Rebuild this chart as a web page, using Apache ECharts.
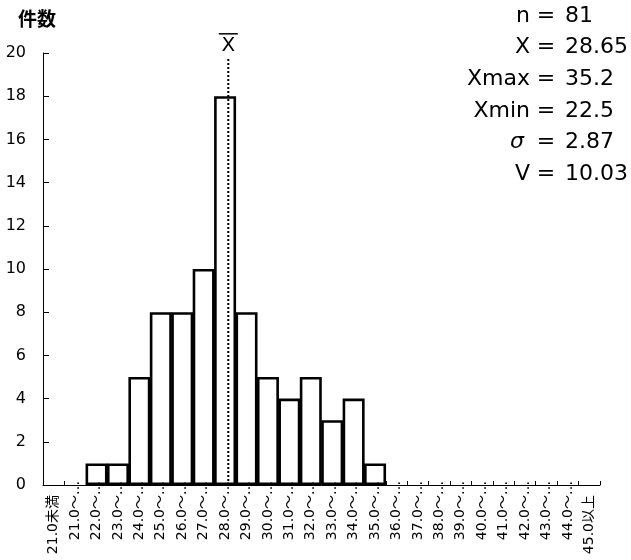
<!DOCTYPE html>
<html>
<head>
<meta charset="utf-8">
<title>histogram</title>
<script src="https://cdn.jsdelivr.net/npm/echarts@6/dist/echarts.min.js"></script>
<style>
  html, body { margin: 0; padding: 0; background: #fff; }
  #main { width: 631px; height: 560px; }
</style>
</head>
<body>
<div id="main"></div>
<script>
// 階級ラベル
var classLabels = ['21.0未満', '21.0～', '22.0～', '23.0～', '24.0～', '25.0～', '26.0～',
  '27.0～', '28.0～', '29.0～', '30.0～', '31.0～', '32.0～', '33.0～', '34.0～', '35.0～',
  '36.0～', '37.0～', '38.0～', '39.0～', '40.0～', '41.0～', '42.0～', '43.0～', '44.0～', '45.0以上'];
// 件数
var counts = [0, 0, 1, 1, 5, 8, 8, 10, 18, 8, 5, 4, 5, 3, 4, 1, 0, 0, 0, 0, 0, 0, 0, 0, 0, 0];
// 平均 (X bar)
var meanValue = 28.65;
var meanLineTop = 19.8;
// 統計量
var statNames = ['n', 'X', 'Xmax', 'Xmin', 'σ', 'V'];
var statValues = ['81', '28.65', '35.2', '22.5', '2.87', '10.03'];

var FONT = '"DejaVu Sans", "Noto Sans CJK JP", sans-serif';

var chart = echarts.init(document.getElementById('main'));

var statGraphics = [];
statNames.forEach(function (name, i) {
  var y = 16 + i * 31.6;
  statGraphics.push({
    type: 'text', x: name === 'σ' ? 524 : 530, y: y,
    style: { text: name, textAlign: 'right', textVerticalAlign: 'middle', fontSize: 22,
      fontFamily: FONT, fontStyle: name === 'σ' ? 'italic' : 'normal', fill: '#000' }
  });
  statGraphics.push({
    type: 'text', x: 546, y: y,
    style: { text: '=', textAlign: 'center', textVerticalAlign: 'middle', fontSize: 22,
      fontFamily: FONT, fill: '#000' }
  });
  statGraphics.push({
    type: 'text', x: 565, y: y,
    style: { text: statValues[i], textAlign: 'left', textVerticalAlign: 'middle', fontSize: 22,
      fontFamily: FONT, fill: '#000' }
  });
});

var option = {
  animation: false,
  backgroundColor: '#fff',
  textStyle: { fontFamily: FONT, color: '#000' },
  grid: { left: 43, right: 31, top: 53, bottom: 75 },
  graphic: [{
    type: 'text', x: 37, y: 21,
    style: { text: '件数', textAlign: 'center', textVerticalAlign: 'middle', fontSize: 19,
      fontWeight: 'bold', fontFamily: FONT, fill: '#000' }
  }].concat(statGraphics),
  xAxis: [{
    type: 'category',
    data: classLabels.map(function (s) {
      return s.indexOf('～') >= 0 ? s + '…' : s + '　';
    }),
    boundaryGap: true,
    z: 10,
    axisLine: { lineStyle: { color: '#000', width: 1 } },
    axisTick: { show: true, inside: true, length: 4, alignWithLabel: false, lineStyle: { color: '#000' } },
    axisLabel: { rotate: 90, interval: 0, margin: -4, fontSize: 14, color: '#000', fontFamily: FONT },
    splitLine: { show: false }
  }, {
    type: 'value', min: 20, max: 46, show: false
  }],
  yAxis: {
    type: 'value', min: 0, max: 20, interval: 2,
    axisLine: { show: true, lineStyle: { color: '#000', width: 1 } },
    axisTick: { show: true, inside: true, length: 6, lineStyle: { color: '#000' } },
    axisLabel: { margin: 17, fontSize: 16, color: '#000', fontFamily: FONT },
    splitLine: { show: false }
  },
  series: [{
    type: 'bar',
    data: counts.map(function (v) { return v === 0 ? '-' : v; }),
    barWidth: 22,
    itemStyle: { color: '#fff', borderColor: '#000', borderWidth: 2.6 },
    z: 2
  }, {
    type: 'line',
    xAxisIndex: 1,
    data: [[meanValue, 0], [meanValue, meanLineTop]],
    symbol: 'none',
    lineStyle: { color: '#000', width: 2, type: [2, 2] },
    z: 3,
    markPoint: {
      symbol: 'rect', symbolSize: 0,
      data: [{ coord: [meanValue, meanLineTop] }],
      label: {
        show: true, position: 'top', distance: 3,
        formatter: '{o| }\n{x|X}',
        rich: {
          o: { width: 19, height: 1.5, lineHeight: 5, backgroundColor: '#000', fontSize: 2 },
          x: { fontSize: 20, lineHeight: 18, fontFamily: FONT, color: '#000' }
        }
      }
    }
  }]
};

chart.setOption(option);
</script>
</body>
</html>
